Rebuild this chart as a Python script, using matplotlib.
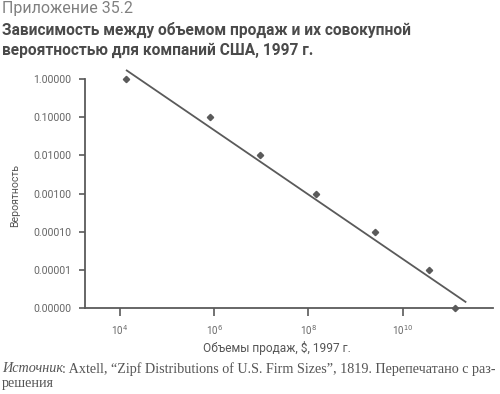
import matplotlib
matplotlib.use("Agg")
import matplotlib.pyplot as plt
import numpy as np

# ---- data ----
sales = [1.35e4, 8.0e5, 9.5e6, 1.45e8, 2.65e9, 3.7e10, 1.3e11]
probability = [1.0, 0.1, 0.01, 0.001, 0.0001, 0.00001, 0.000001]
fit_x = [1.35e4, 2.25e11]
fit_y = [1.72, 1.43e-6]
x_ticks = [1e4, 1e6, 1e8, 1e10]
x_tick_labels = ["10$^{4}$", "10$^{6}$", "10$^{8}$", "10$^{10}$"]
y_ticks = [1.0, 0.1, 0.01, 0.001, 0.0001, 0.00001, 0.000001]
y_tick_labels = ["1.00000", "0.10000", "0.01000", "0.00100", "0.00010", "0.00001", "0.00000"]

supertitle = "Приложение 35.2"
title = "Зависимость между объемом продаж и их совокупной\nвероятностью для компаний США, 1997 г."
xlabel = "Объемы продаж, $, 1997 г."
ylabel = "Вероятность"
source_label = "Источник"
source_text = ": Axtell, “Zipf Distributions of U.S. Firm Sizes”, 1819. Перепечатано с раз-"
source_text2 = "решения"

GRAY = "#5a5a5a"
SANS = "Roboto"
fig = plt.figure(figsize=(5.0, 3.94), dpi=100)
ax = fig.add_axes([0.17, 0.2175, 0.816, 0.61])

ax.plot(fit_x, fit_y, color=GRAY, lw=1.3, solid_capstyle="butt")
ax.plot(sales, probability, linestyle="none", marker="D", ms=3.2, color=GRAY, clip_on=False, zorder=5)

ax.set_xscale("log")
ax.set_yscale("log")
ax.set_xlim(10**3.26, 10**11.92)
ax.set_ylim(1e-6, 1.94)
ax.minorticks_off()
ax.set_xticks(x_ticks)
ax.set_xticklabels(x_tick_labels)
ax.set_yticks(y_ticks)
ax.set_yticklabels(y_tick_labels)

for s in ["top", "right"]:
    ax.spines[s].set_visible(False)
ax.spines["left"].set_bounds(1e-6, 1.0)
for s in ["left", "bottom"]:
    ax.spines[s].set_color(GRAY)
    ax.spines[s].set_linewidth(1.3)

ax.tick_params(axis="y", length=4, width=1.2, color=GRAY, pad=6,
               labelsize=7.6, labelcolor="#666666")
ax.tick_params(axis="x", length=6, width=1.2, color=GRAY, pad=5,
               labelsize=7.0, labelcolor="#666666")
for lab in ax.get_yticklabels() + ax.get_xticklabels():
    lab.set_family(SANS)

fig.text(277 / 500, 1 - 348 / 394, xlabel, family=SANS, fontsize=8.6, color="#555555",
         ha="center", va="center")
fig.text(15 / 500, 1 - 196 / 394, ylabel, family=SANS, fontsize=7.6, color="#555555",
         ha="center", va="center", rotation=90)

fig.text(0.004, 1 - 9 / 394, supertitle, family=SANS, fontweight="normal", fontsize=11.5,
         color="#808080", va="center", ha="left")
fig.text(0.004, 1 - 40 / 394, title, family=SANS, fontweight="bold", fontsize=11.2,
         color="#4a4a4a", va="center", ha="left", linespacing=1.35)

y1 = 1 - 369 / 394
fig.text(0.004, y1, source_label, family="Liberation Serif", style="italic", fontsize=10.2,
         color="#555555", va="center", ha="left")
fig.text(0.123, y1, source_text, family="Liberation Serif", fontsize=10.2,
         color="#555555", va="center", ha="left")
fig.text(0.004, 1 - 384 / 394, source_text2, family="Liberation Serif", fontsize=10.2,
         color="#555555", va="center", ha="left")

fig.savefig("out.png", dpi=100)
